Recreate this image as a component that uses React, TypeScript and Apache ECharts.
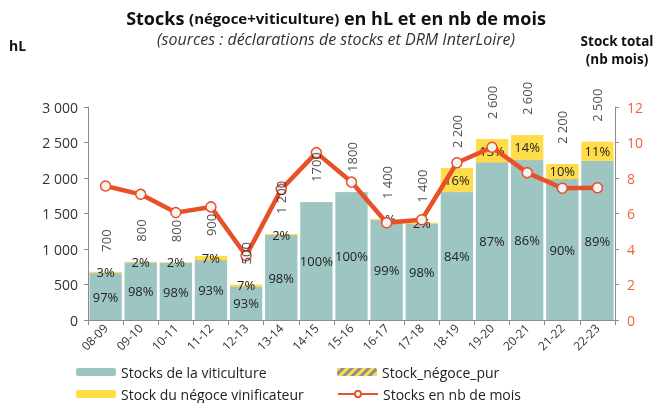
import React, { useEffect, useRef } from "react";
import * as echarts from "echarts";

const categories = ["08-09","09-10","10-11","11-12","12-13","13-14","14-15","15-16","16-17","17-18","18-19","19-20","20-21","21-22","22-23"];
const stockViti = [660, 805, 800, 838, 465, 1190, 1657, 1798, 1405, 1345, 1800, 2215, 2250, 1980, 2238];
const stockNegocePur = [6, 6, 6, 6, 6, 6, 6, 6, 6, 6, 6, 6, 6, 6, 6];
const stockNegoceVinif = [14, 10, 9, 56, 30, 16, 0, 0, 10, 19, 334, 330, 350, 212, 266];
const pctViti = [97, 98, 98, 93, 93, 98, 100, 100, 99, 98, 84, 87, 86, 90, 89];
const pctNegoce: (number | null)[] = [3, 2, 2, 7, 7, 2, null, null, 1, 2, 16, 13, 14, 10, 11];
const stockTotal = [680, 821, 815, 900, 501, 1212, 1663, 1804, 1421, 1370, 2140, 2551, 2606, 2198, 2510];
const totalLabels = ["700","800","800","900","500","1 200","1700","1800","1 400","1 400","2 200","2 600","2 600","2 200","2 500"];
const stockMois = [7.55, 7.08, 6.05, 6.37, 3.62, 7.36, 9.43, 7.77, 5.48, 5.65, 8.86, 9.73, 8.30, 7.42, 7.45];

const FONT = "'Open Sans', sans-serif";
const TEAL = "#9DC5C2";
const YELLOW = "#FFDC4A";
const ORANGE = "#E8502A";

export default function App() {
  const ref = useRef<HTMLDivElement>(null);
  useEffect(() => {
    if (!ref.current) return;
    const chart = echarts.init(ref.current, undefined, { renderer: "svg" });
    const fmtThousands = (v: number) => String(v).replace(/\B(?=(\d{3})+(?!\d))/g, " ");
    const legendBase = {
      orient: "horizontal",
      padding: 0,
      itemWidth: 40,
      itemHeight: 8,
      textStyle: { fontSize: 14, color: "#222", fontFamily: FONT },
    };
    chart.setOption({
      animation: false,
      textStyle: { fontFamily: FONT },
      title: [
        {
          text: "{a|Stocks }{b|(négoce+viticulture)}{a| en hL et en nb de mois}",
          left: 331,
          textAlign: "center",
          top: 4,
          textStyle: {
            rich: {
              a: { fontSize: 18, fontWeight: "bold", color: "#111", fontFamily: FONT },
              b: { fontSize: 15, fontWeight: "bold", color: "#111", fontFamily: FONT },
            },
          },
        },
        {
          text: "(sources : déclarations de stocks et DRM InterLoire)",
          left: 331,
          textAlign: "center",
          top: 26,
          textStyle: { fontSize: 16, fontStyle: "italic", fontWeight: "normal", color: "#333", fontFamily: FONT },
        },
      ],
      graphic: [
        {
          type: "text",
          left: 9,
          top: 38,
          style: { text: "hL", fontSize: 14, fontWeight: "bold", fill: "#111", fontFamily: FONT },
        },
        {
          type: "text",
          x: 617,
          y: 32,
          style: {
            text: "Stock total\n(nb mois)",
            fontSize: 13.5,
            fontWeight: "bold",
            fill: "#111",
            fontFamily: FONT,
            align: "center",
            lineHeight: 18,
          },
        },
      ],
      grid: { left: 88, right: 46, top: 107, bottom: 83 },
      legend: [
        { ...legendBase, left: 76, top: 365, data: ["Stocks de la viticulture"] },
        { ...legendBase, left: 76, top: 387, data: ["Stock du négoce vinificateur"] },
        { ...legendBase, left: 337, top: 365, data: ["Stock_négoce_pur"] },
        { ...legendBase, left: 337, top: 387, data: ["Stocks en nb de mois"] },
      ],
      xAxis: {
        type: "category",
        data: categories,
        axisLine: { lineStyle: { color: "#8c8c8c" } },
        axisTick: { show: true, lineStyle: { color: "#8c8c8c" } },
        axisLabel: { rotate: 45, fontSize: 12, color: "#333", margin: 6, fontFamily: FONT },
      },
      yAxis: [
        {
          type: "value",
          min: 0,
          max: 3000,
          interval: 500,
          splitLine: { show: false },
          axisLine: { show: true, lineStyle: { color: "#8c8c8c" } },
          axisTick: { show: true, length: 4, lineStyle: { color: "#8c8c8c" } },
          axisLabel: { fontSize: 14, color: "#333", margin: 10, formatter: (v: number) => fmtThousands(v), fontFamily: FONT },
        },
        {
          type: "value",
          min: 0,
          max: 12,
          interval: 2,
          position: "right",
          splitLine: { show: false },
          axisLine: { show: true, lineStyle: { color: "#8c8c8c" } },
          axisTick: { show: true, length: 4, lineStyle: { color: "#8c8c8c" } },
          axisLabel: { fontSize: 14, color: "#F0643A", margin: 12, fontFamily: FONT },
        },
      ],
      series: [
        {
          name: "Stocks de la viticulture",
          type: "bar",
          stack: "s",
          data: stockViti,
          barCategoryGap: "8%",
          itemStyle: { color: TEAL },
          label: {
            show: true,
            position: "inside",
            fontSize: 13,
            color: "#222",
            fontFamily: FONT,
            formatter: (p: any) => pctViti[p.dataIndex] + "%",
          },
        },
        {
          name: "Stock_négoce_pur",
          type: "bar",
          stack: "s",
          data: stockNegocePur,
          itemStyle: {
            color: "#8f8f8f",
            decal: {
              symbol: "rect",
              color: YELLOW,
              dashArrayX: [1, 0],
              dashArrayY: [3, 3],
              rotation: -Math.PI / 4,
            },
          },
        },
        {
          name: "Stock du négoce vinificateur",
          type: "bar",
          stack: "s",
          data: stockNegoceVinif,
          itemStyle: { color: YELLOW },
          label: {
            show: true,
            position: "inside",
            fontSize: 13,
            color: "#222",
            fontFamily: FONT,
            formatter: (p: any) => (pctNegoce[p.dataIndex] == null ? "" : pctNegoce[p.dataIndex] + "%"),
          },
        },
        {
          name: "Stocks en nb de mois",
          type: "line",
          yAxisIndex: 1,
          data: stockMois,
          z: 5,
          symbol: "circle",
          symbolSize: 10,
          lineStyle: { color: ORANGE, width: 4.5 },
          itemStyle: { color: "#F3F3F3", borderColor: ORANGE, borderWidth: 1.5 },
        },
        {
          name: "Stock total",
          type: "scatter",
          data: stockTotal,
          symbolSize: 0,
          silent: true,
          z: 10,
          label: {
            show: true,
            position: "top",
            distance: 20,
            rotate: 90,
            align: "left",
            verticalAlign: "middle",
            fontSize: 13,
            color: "#222",
            fontFamily: FONT,
            formatter: (p: any) => totalLabels[p.dataIndex],
          },
        },
      ],
    });
    return () => chart.dispose();
  }, []);
  return <div ref={ref} style={{ position: "fixed", left: 0, top: 0, width: 661, height: 403 }} />;
}
